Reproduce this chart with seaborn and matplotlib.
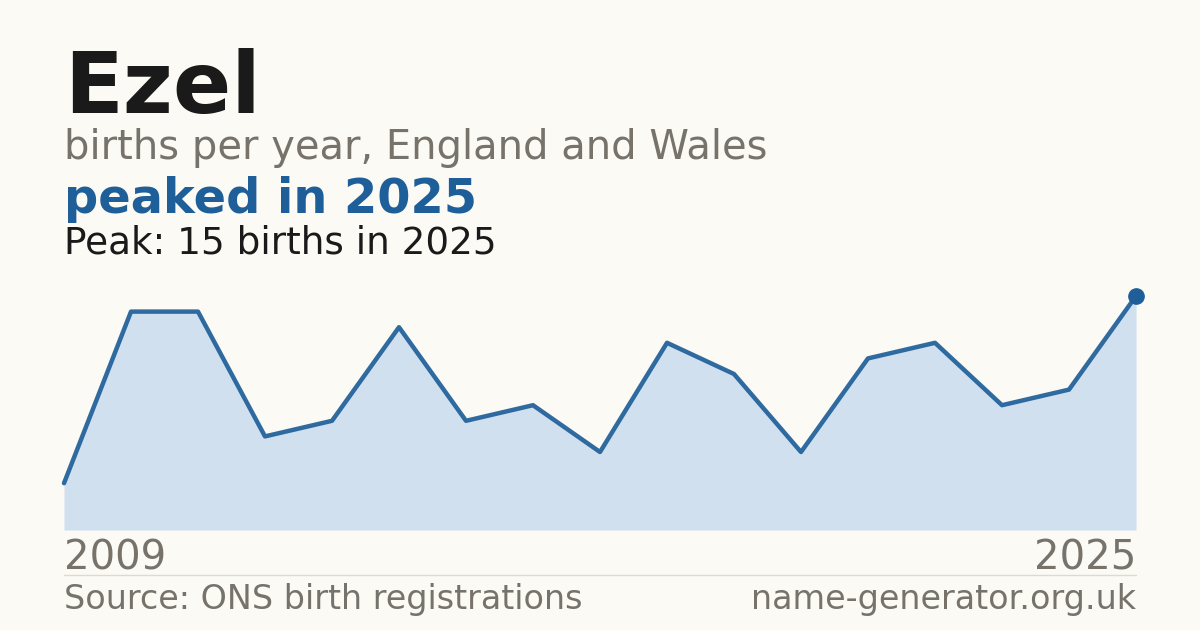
import matplotlib
matplotlib.use("Agg")
import matplotlib.pyplot as plt
import seaborn as sns
import pandas as pd

years = list(range(2009, 2026))
births = [3, 14, 14, 6, 7, 13, 7, 8, 5, 12, 10, 5, 11, 12, 8, 9, 15]

name = "Ezel"
subtitle = "births per year, England and Wales"
headline = "peaked in 2025"
peak_text = "Peak: 15 births in 2025"
source = "Source: ONS birth registrations"
site = "name-generator.org.uk"

BG = "#fbfaf5"
BLUE = "#1f5f99"
FILL = "#d0e0ef"
GREY = "#77736b"
DARK = "#1a1a1a"

sns.set_theme(style="white")
plt.rcParams['font.family'] = ['DejaVu Sans']

df = pd.DataFrame({"year": years, "births": births})

fig = plt.figure(figsize=(12, 6.3), dpi=100, facecolor=BG)
W, H = 1200, 630
ax = fig.add_axes([64 / W, 1 - 530 / H, (1136 - 64) / W, (530 - 296) / H])
ax.set_facecolor(BG)
ax.patch.set_alpha(0)

ax.fill_between(df["year"], 0, df["births"], color=FILL, lw=0, zorder=1)
sns.lineplot(data=df, x="year", y="births", ax=ax, color=BLUE, lw=3.2,
             zorder=3, clip_on=False, alpha=0.92)
ax.plot([years[-1]], [births[-1]], "o", color=BLUE, ms=11, zorder=4, clip_on=False)

ax.set_xlim(years[0], years[-1])
ax.set_ylim(0, max(births))
ax.set_xticks([])
ax.set_yticks([])
ax.set_xlabel("")
ax.set_ylabel("")
for s in ax.spines.values():
    s.set_visible(False)

def fy(py):
    return 1 - py / H

fig.text(64 / W, fy(113), name, fontsize=62, fontweight="bold", color=DARK, va="baseline", ha="left")
fig.text(64 / W, fy(159), subtitle, fontsize=28.8, color=GREY, va="baseline", ha="left")
fig.text(64 / W, fy(213), headline, fontsize=34.5, fontweight="bold", color=BLUE, va="baseline", ha="left")
fig.text(64 / W, fy(253), peak_text, fontsize=26.9, color=DARK, va="baseline", ha="left")

fig.text(64 / W, fy(570), str(years[0]), fontsize=28.9, color=GREY, va="baseline", ha="left")
fig.text(1136 / W, fy(570), str(years[-1]), fontsize=28.9, color=GREY, va="baseline", ha="right")

fig.add_artist(plt.Line2D([64 / W, 1136 / W], [fy(574.5), fy(574.5)], color="#dddad0", lw=1))

fig.text(64 / W, fy(609), source, fontsize=24, color=GREY, va="baseline", ha="left")
fig.text(1136 / W, fy(609), site, fontsize=24, color=GREY, va="baseline", ha="right")

fig.savefig("out.png", dpi=100, facecolor=BG)
